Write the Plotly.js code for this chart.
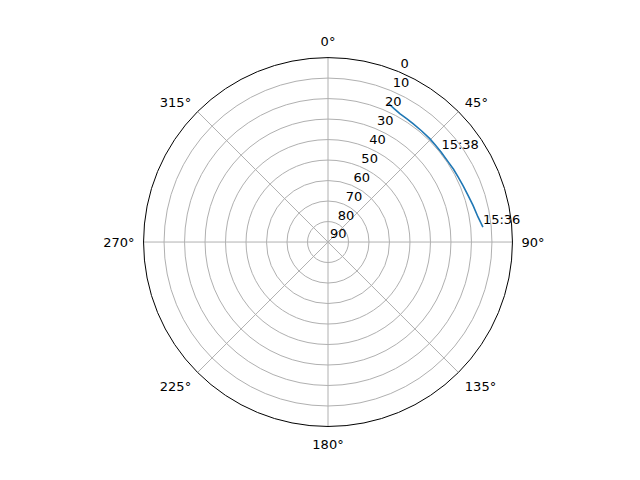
<!DOCTYPE html>
<html>
<head>
<meta charset="utf-8">
<script src="https://cdn.plot.ly/plotly-3.0.1.min.js"></script>
<style>html,body{margin:0;padding:0;background:#fff;}#chart{width:640px;height:480px;}</style>
</head>
<body>
<div id="chart"></div>
<script>
var azimuth = [84.5, 80.5, 75.8, 71.5, 67.2, 63.5, 59.9, 56.3, 51.6, 48.0, 44.4, 40.0, 35.7, 32.5, 29.2, 26.5, 23.7];
var elevation = [14.05, 15.8, 17.0, 18.0, 18.6, 19.0, 19.2, 19.5, 19.5, 19.4, 19.2, 19.1, 18.9, 18.6, 18.2, 17.4, 16.3];
var labelTimes = ["15:36", "15:38"];
var labelAz = [84.5, 51.6];
var labelEl = [14.05, 19.4];
var radialTicks = [0, 10, 20, 30, 40, 50, 60, 70, 80, 90];
var angleTicks = [0, 45, 90, 135, 180, 225, 270, 315];

var font = {family: "DejaVu Sans", size: 13, color: "#000"};
var traces = [
  {type: "scatterpolar", r: elevation, theta: azimuth, mode: "lines",
   line: {color: "#1f77b4", width: 1.6}, hoverinfo: "skip"},
  {type: "scatterpolar", r: labelEl, theta: labelAz, mode: "text", text: labelTimes,
   textposition: "top right", textfont: font, hoverinfo: "skip"},
  {type: "scatterpolar", r: [], theta: [], mode: "lines", subplot: "polar2", hoverinfo: "skip"}
];
var layout = {
  width: 640, height: 480,
  margin: {l: 0, r: 0, t: 0, b: 0},
  paper_bgcolor: "#fff",
  showlegend: false,
  font: font,
  polar: {
    domain: {x: [0.2242, 0.8008], y: [0.1115, 0.880]},
    bgcolor: "#fff",
    radialaxis: {
      range: [90, 0], tickvals: radialTicks, showticklabels: false,
      showline: false, ticks: "", angle: 67.5,
      gridcolor: "#b0b0b0", gridwidth: 1
    },
    angularaxis: {
      rotation: 90, direction: "clockwise",
      tickvals: angleTicks, ticktext: angleTicks.map(function(a){return a + "°";}),
      ticks: "outside", ticklen: 6, tickcolor: "rgba(0,0,0,0)",
      showline: true, linecolor: "#000", linewidth: 1,
      gridcolor: "#b0b0b0", gridwidth: 1, tickfont: font
    }
  },
  polar2: {
    domain: {x: [0.2172, 0.7938], y: [0.1380, 0.9065]},
    bgcolor: "rgba(0,0,0,0)",
    radialaxis: {
      range: [90, 0], tickvals: radialTicks, ticktext: radialTicks.map(String),
      showline: false, showgrid: false, ticks: "", angle: 67.5, tickangle: 67.5,
      side: "clockwise", tickfont: font
    },
    angularaxis: {visible: false, rotation: 90, direction: "clockwise", showgrid: false}
  }
};
Plotly.newPlot("chart", traces, layout, {staticPlot: true});
</script>
</body>
</html>
